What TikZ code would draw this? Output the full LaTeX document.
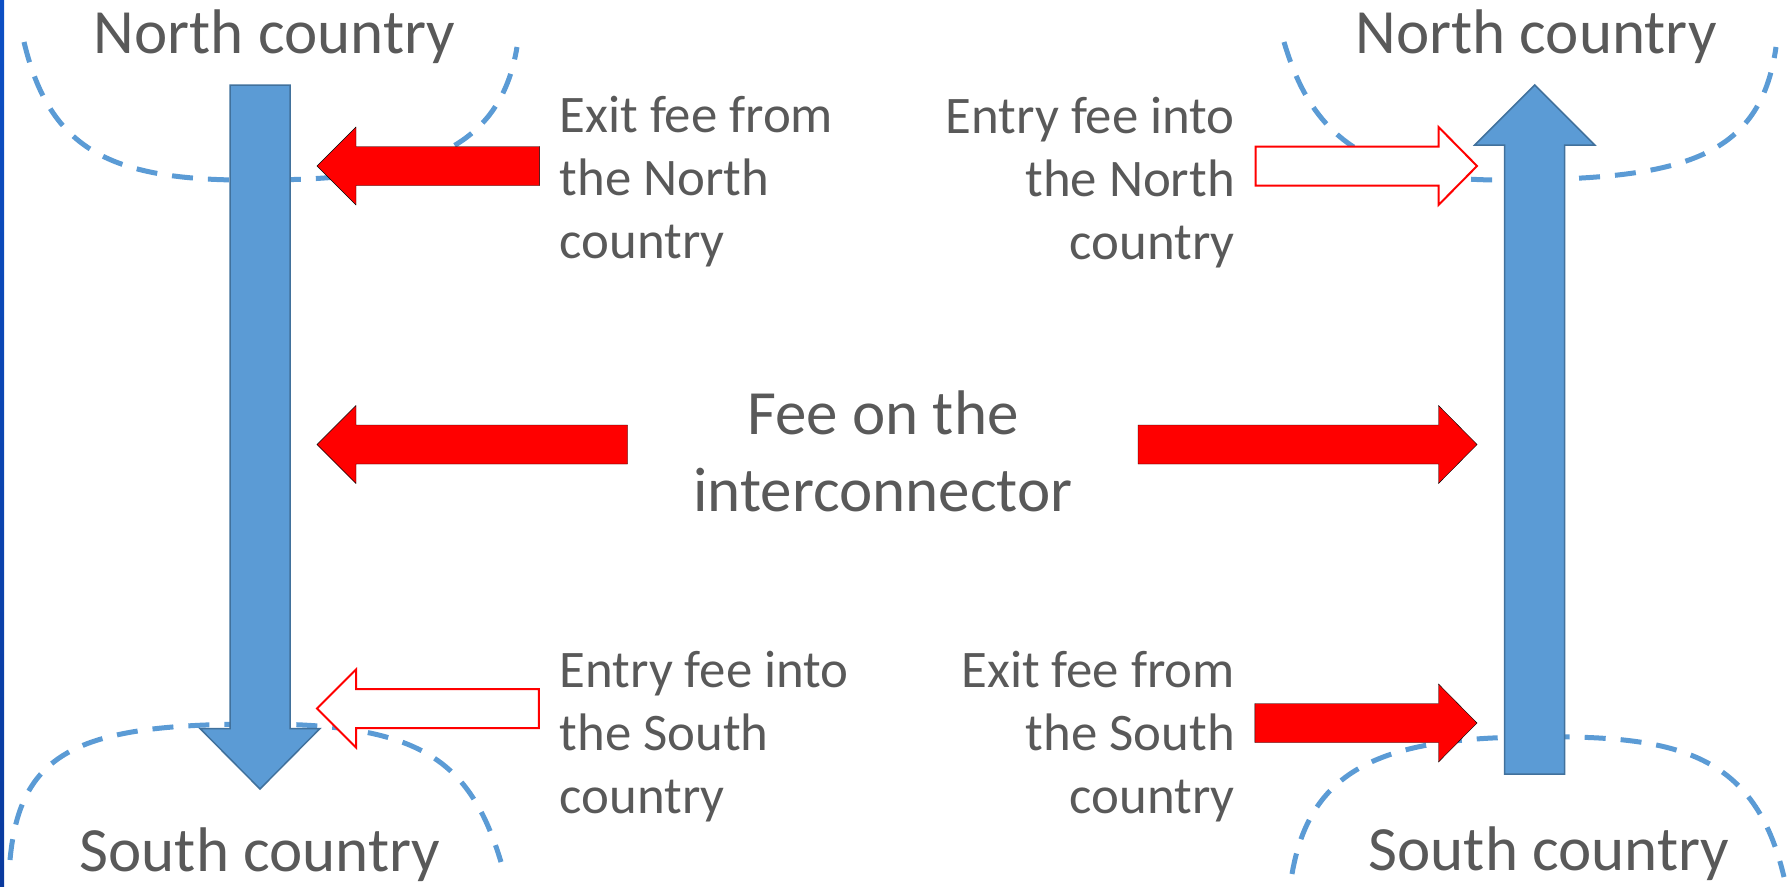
\documentclass[tikz,border=0pt]{standalone}
\usepackage{fontspec}
\setmainfont{Carlito}
\usepackage{xcolor}
\usepackage{tikz}

\definecolor{textgrey}{HTML}{595959}
\definecolor{flowblue}{HTML}{5B9BD5}
\definecolor{flowedge}{HTML}{41719C}
\definecolor{feered}{HTML}{FF0000}
\definecolor{stripblue}{HTML}{0C4FC4}
\definecolor{stripdark}{HTML}{0A3A9E}

\tikzset{
  country/.style={inner sep=0pt, text=textgrey, font=\fontsize{63}{77}\selectfont},
  feelabel/.style={inner sep=0pt, text=textgrey, font=\fontsize{52.8}{63}\selectfont},
  border/.style={flowblue, line width=5pt, dash pattern=on 21pt off 15pt},
  flow/.style={fill=flowblue, draw=flowedge, line width=1.5pt},
  paidfee/.style={fill=feered},
  freefee/.style={fill=white, draw=feered, line width=2pt},
}

% fee arrow: style, tail x, head x, tip x, y
\newcommand{\feearrow}[5]{%
  \draw[#1] (#2,#5-19.5) -- (#3,#5-19.5) -- (#3,#5-39) -- (#4,#5)
    -- (#3,#5+39) -- (#3,#5+19.5) -- (#2,#5+19.5) -- cycle;}
% flow arrow: x, tail y, head y, tip y
\newcommand{\flowarrow}[4]{%
  \draw[flow] (#1-30,#2) -- (#1-30,#3) -- (#1-60,#3) -- (#1,#4)
    -- (#1+60,#3) -- (#1+30,#3) -- (#1+30,#2) -- cycle;}

\begin{document}
\begin{tikzpicture}[x=1pt, y=-1pt]
  \useasboundingbox (0,0) rectangle (1787,886);
  \shade[top color=stripblue, bottom color=stripdark] (0,0) rectangle (4,886);

  % borders
  \draw[border] (24,42) .. controls (50,150) and (110,182) .. (260,180)
    .. controls (420,180) and (500,150) .. (517,47);
  \draw[border] (1284,42) .. controls (1310,130) and (1360,180) .. (1500,180)
    .. controls (1680,180) and (1760,160) .. (1776,47);
  \draw[border] (10,860) .. controls (20,750) and (80,724) .. (260,724)
    .. controls (420,724) and (470,760) .. (501,862);
  \draw[border] (1292,874) .. controls (1310,770) and (1380,737) .. (1536,737)
    .. controls (1680,735) and (1755,755) .. (1784,877);

  % flows
  \flowarrow{260}{85}{728.5}{789}
  \flowarrow{1534.7}{774}{145}{85}

  % fees
  \foreach \sty/\tail/\base/\tip/\y in {paidfee/539.6/356/317/166,
      freefee/1255.6/1438.5/1477/166, paidfee/627.5/356/317/444.5,
      paidfee/1138/1438.5/1477/444.5, freefee/538.8/356/317/708.5,
      paidfee/1254.8/1438.5/1477/723}
    \feearrow{\sty}{\tail}{\base}{\tip}{\y};

  % labels (base = last line)
  \node[country, anchor=base] (northW) at (274.5,53) {North country};
  \node[country, anchor=base] (northE) at (1536,53) {North country};
  \node[country, anchor=base] (southW) at (260,871) {South country};
  \node[country, anchor=base] (southE) at (1549,870) {South country};
  \node[feelabel, anchor=base west, align=left] (exitN) at (559.5,258.5) {Exit fee from\\the North\\country};
  \node[feelabel, anchor=base east, align=right] (entryN) at (1235,259) {Entry fee into\\the North\\country};
  \node[feelabel, anchor=base west, align=left] (entryS) at (559.5,813) {Entry fee into\\the South\\country};
  \node[feelabel, anchor=base east, align=right] (exitS) at (1235,813) {Exit fee from\\the South\\country};
  \node[country, anchor=base, align=center] (interFee) at (883,511) {Fee on the\\interconnector};
\end{tikzpicture}
\end{document}
